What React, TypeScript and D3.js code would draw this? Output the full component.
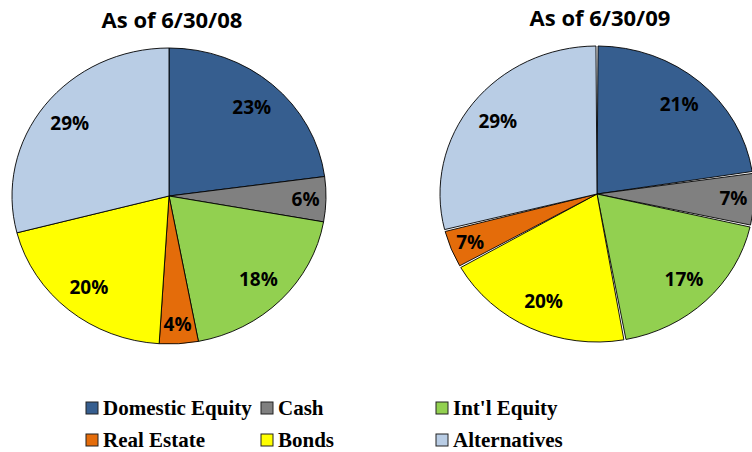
import React, { useEffect, useRef } from 'react';
import * as d3 from 'd3';

// slice shares as drawn, and the percent labels printed on them
const series08 = ["Domestic Equity", "Cash", "Int'l Equity", "Real Estate", "Bonds", "Alternatives"];
const shares08 = [22.9, 4.9, 19.2, 4.0, 20.0, 29.0];
const labels08 = ["23%", "6%", "18%", "4%", "20%", "29%"];

const series09 = ["Domestic Equity", "Cash", "Int'l Equity", "Bonds", "Real Estate", "Alternatives"];
const shares09 = [22.7, 5.8, 18.7, 19.7, 4.2, 29.0];
const labels09 = ["21%", "7%", "17%", "20%", "7%", "29%"];

const legendItems = ["Domestic Equity", "Cash", "Int'l Equity", "Real Estate", "Bonds", "Alternatives"];

const colorOf: Record<string, string> = {
  "Domestic Equity": "#365E8F",
  "Cash": "#808080",
  "Int'l Equity": "#92D050",
  "Real Estate": "#E46C0A",
  "Bonds": "#FFFF00",
  "Alternatives": "#B9CDE5",
};

interface PieSpec {
  title: string;
  names: string[];
  shares: number[];
  labels: string[];
  cx: number;
  cy: number;
  titleY: number;
  gap: number;
}

const pies: PieSpec[] = [
  { title: "As of 6/30/08", names: series08, shares: shares08, labels: labels08, cx: 169, cy: 196, titleY: 28, gap: 0 },
  { title: "As of 6/30/09", names: series09, shares: shares09, labels: labels09, cx: 597, cy: 194, titleY: 26, gap: 2 },
];

export default function App() {
  const svgRef = useRef<SVGSVGElement>(null);

  useEffect(() => {
    if (!svgRef.current) return;
    const svg = d3.select(svgRef.current);
    svg.selectAll("*").remove();

    const rx = 157;
    const ry = 148;
    const sx = rx / ry;

    pies.forEach(p => {
      const data = p.names.map((n, i) => ({ name: n, share: p.shares[i], label: p.labels[i] }));
      const arcs = d3.pie<typeof data[number]>().sort(null).value(d => d.share)(data);
      const arc = d3.arc<d3.PieArcDatum<typeof data[number]>>()
        .innerRadius(0)
        .outerRadius(ry)
        .padAngle(p.gap / ry)
        .padRadius(ry);

      const g = svg.append("g")
        .attr("transform", `translate(${p.cx},${p.cy}) scale(${sx},1)`);

      g.selectAll("path")
        .data(arcs)
        .enter()
        .append("path")
        .attr("d", arc as any)
        .attr("fill", d => colorOf[d.data.name])
        .attr("stroke", "#000")
        .attr("stroke-width", 0.9)
        .attr("vector-effect", "non-scaling-stroke");

      // percent labels
      svg.append("g")
        .selectAll("text")
        .data(arcs)
        .enter()
        .append("text")
        .attr("x", d => {
          const a = (d.startAngle + d.endAngle) / 2;
          const f = d.data.share < 8 ? 0.87 : 0.8;
          return p.cx + Math.sin(a) * f * rx;
        })
        .attr("y", d => {
          const a = (d.startAngle + d.endAngle) / 2;
          const f = d.data.share < 8 ? 0.87 : 0.8;
          return p.cy - Math.cos(a) * f * ry;
        })
        .attr("dy", "0.36em")
        .attr("text-anchor", "middle")
        .style("font-family", "'Open Sans', sans-serif")
        .style("font-weight", "bold")
        .style("font-size", "19px")
        .style("fill", "#000")
        .text(d => d.data.label);

      svg.append("text")
        .attr("x", p.cx + 3)
        .attr("y", p.titleY)
        .attr("text-anchor", "middle")
        .style("font-family", "'Open Sans', sans-serif")
        .style("font-weight", "bold")
        .style("font-size", "22px")
        .style("fill", "#000")
        .text(p.title);
    });

    // legend
    const legend = svg.append("g");
    const item = legend.selectAll("g")
      .data(legendItems)
      .enter()
      .append("g")
      .attr("transform", (d, i) => `translate(${86 + (i % 3) * 175},${402 + Math.floor(i / 3) * 32})`);

    item.append("rect")
      .attr("width", 12)
      .attr("height", 12)
      .attr("fill", d => colorOf[d])
      .attr("stroke", "#222")
      .attr("stroke-width", 1);

    item.append("text")
      .attr("x", 17)
      .attr("y", 13)
      .style("font-family", "'Liberation Serif', 'Times New Roman', serif")
      .style("font-weight", "bold")
      .style("font-size", "21px")
      .style("fill", "#000")
      .text(d => d);
  }, []);

  return (
    <svg
      ref={svgRef}
      width={752}
      height={452}
      style={{ position: 'absolute', left: 0, top: 0, background: '#fff' }}
    />
  );
}
